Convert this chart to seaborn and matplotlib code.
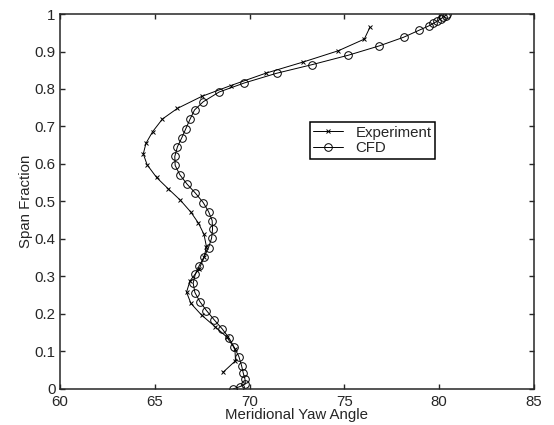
import pandas as pd
import seaborn as sns
import matplotlib.pyplot as plt

# Experiment: yaw angle vs span fraction (top to bottom)
exp_angle = [76.35, 76.05, 74.68, 72.83, 70.85, 69.00, 67.47, 66.19, 65.41, 64.89,
             64.54, 64.40, 64.60, 65.10, 65.71, 66.36, 66.90, 67.31, 67.60, 67.73,
             67.60, 67.35, 66.86, 66.68, 66.91, 67.47, 68.18, 68.79, 69.23, 69.26, 68.60]
exp_span = [0.965, 0.933, 0.902, 0.872, 0.842, 0.809, 0.780, 0.748, 0.720, 0.686,
            0.655, 0.627, 0.598, 0.564, 0.534, 0.503, 0.472, 0.442, 0.412, 0.379,
            0.351, 0.320, 0.288, 0.258, 0.228, 0.197, 0.166, 0.139, 0.107, 0.075, 0.044]

# CFD
cfd_angle = [80.40, 80.34, 80.22, 80.08, 79.90, 79.69, 79.48, 78.95, 78.12, 76.84,
             75.20, 73.30, 71.43, 69.72, 68.40, 67.56, 67.10, 66.86, 66.64, 66.43,
             66.20, 66.06, 66.08, 66.33, 66.71, 67.15, 67.56, 67.84, 68.03, 68.05,
             68.00, 67.84, 67.60, 67.35, 67.14, 67.03, 67.12, 67.38, 67.73, 68.14,
             68.56, 68.93, 69.19, 69.44, 69.58, 69.67, 69.76, 69.78, 69.49, 69.14]
cfd_span = [1.000, 0.996, 0.992, 0.987, 0.981, 0.975, 0.969, 0.957, 0.938, 0.915,
            0.890, 0.865, 0.842, 0.816, 0.792, 0.766, 0.744, 0.719, 0.694, 0.670,
            0.646, 0.620, 0.596, 0.571, 0.546, 0.522, 0.497, 0.473, 0.449, 0.426,
            0.402, 0.377, 0.351, 0.329, 0.306, 0.282, 0.257, 0.233, 0.209, 0.184,
            0.160, 0.135, 0.111, 0.086, 0.062, 0.042, 0.026, 0.013, 0.006, 0.000]

x_ticks = [60, 65, 70, 75, 80, 85]
y_ticks = [0, 0.1, 0.2, 0.3, 0.4, 0.5, 0.6, 0.7, 0.8, 0.9, 1]
y_tick_labels = ['0', '0.1', '0.2', '0.3', '0.4', '0.5', '0.6', '0.7', '0.8', '0.9', '1']

sns.set_style('ticks')
plt.rcParams['font.family'] = ['Liberation Sans', 'DejaVu Sans']
fs = 10.8

exp_df = pd.DataFrame({'angle': exp_angle, 'span': exp_span})
cfd_df = pd.DataFrame({'angle': cfd_angle, 'span': cfd_span})

fig = plt.figure(figsize=(5.54, 4.25), dpi=100)
ax = fig.add_axes([0.108, 0.085, 0.856, 0.882])

sns.lineplot(data=exp_df, x='angle', y='span', sort=False, estimator=None, ax=ax,
             color='black', linewidth=0.7, marker='x', markersize=3.5,
             markeredgecolor='black', markeredgewidth=0.7, label='Experiment')
sns.lineplot(data=cfd_df, x='angle', y='span', sort=False, estimator=None, ax=ax,
             color='black', linewidth=0.7, marker='o', markersize=5.5,
             markerfacecolor='none', markeredgecolor='black', markeredgewidth=0.7,
             label='CFD')

ax.set_xlim(60, 85)
ax.set_ylim(0, 1)
ax.set_xticks(x_ticks)
ax.set_yticks(y_ticks)
ax.set_yticklabels(y_tick_labels)
ax.tick_params(direction='in', length=3.5, width=1, top=True, right=True, labelsize=fs)
ax.tick_params(axis='x', pad=4.5)
ax.tick_params(axis='y', pad=3)
for s in ax.spines.values():
    s.set_linewidth(1.1)
    s.set_visible(True)
ax.set_xlabel('Meridional Yaw Angle', fontsize=fs, labelpad=-0.5)
ax.set_ylabel('Span Fraction', fontsize=fs, labelpad=1)

leg = ax.legend(loc='upper left', bbox_to_anchor=(0.527, 0.712), borderaxespad=0,
                fancybox=False, framealpha=1, edgecolor='black', fontsize=fs,
                handlelength=2.0, borderpad=0.25, labelspacing=0.1,
                handletextpad=0.8)
leg.get_frame().set_linewidth(1.1)

fig.savefig('out.png', dpi=100)
